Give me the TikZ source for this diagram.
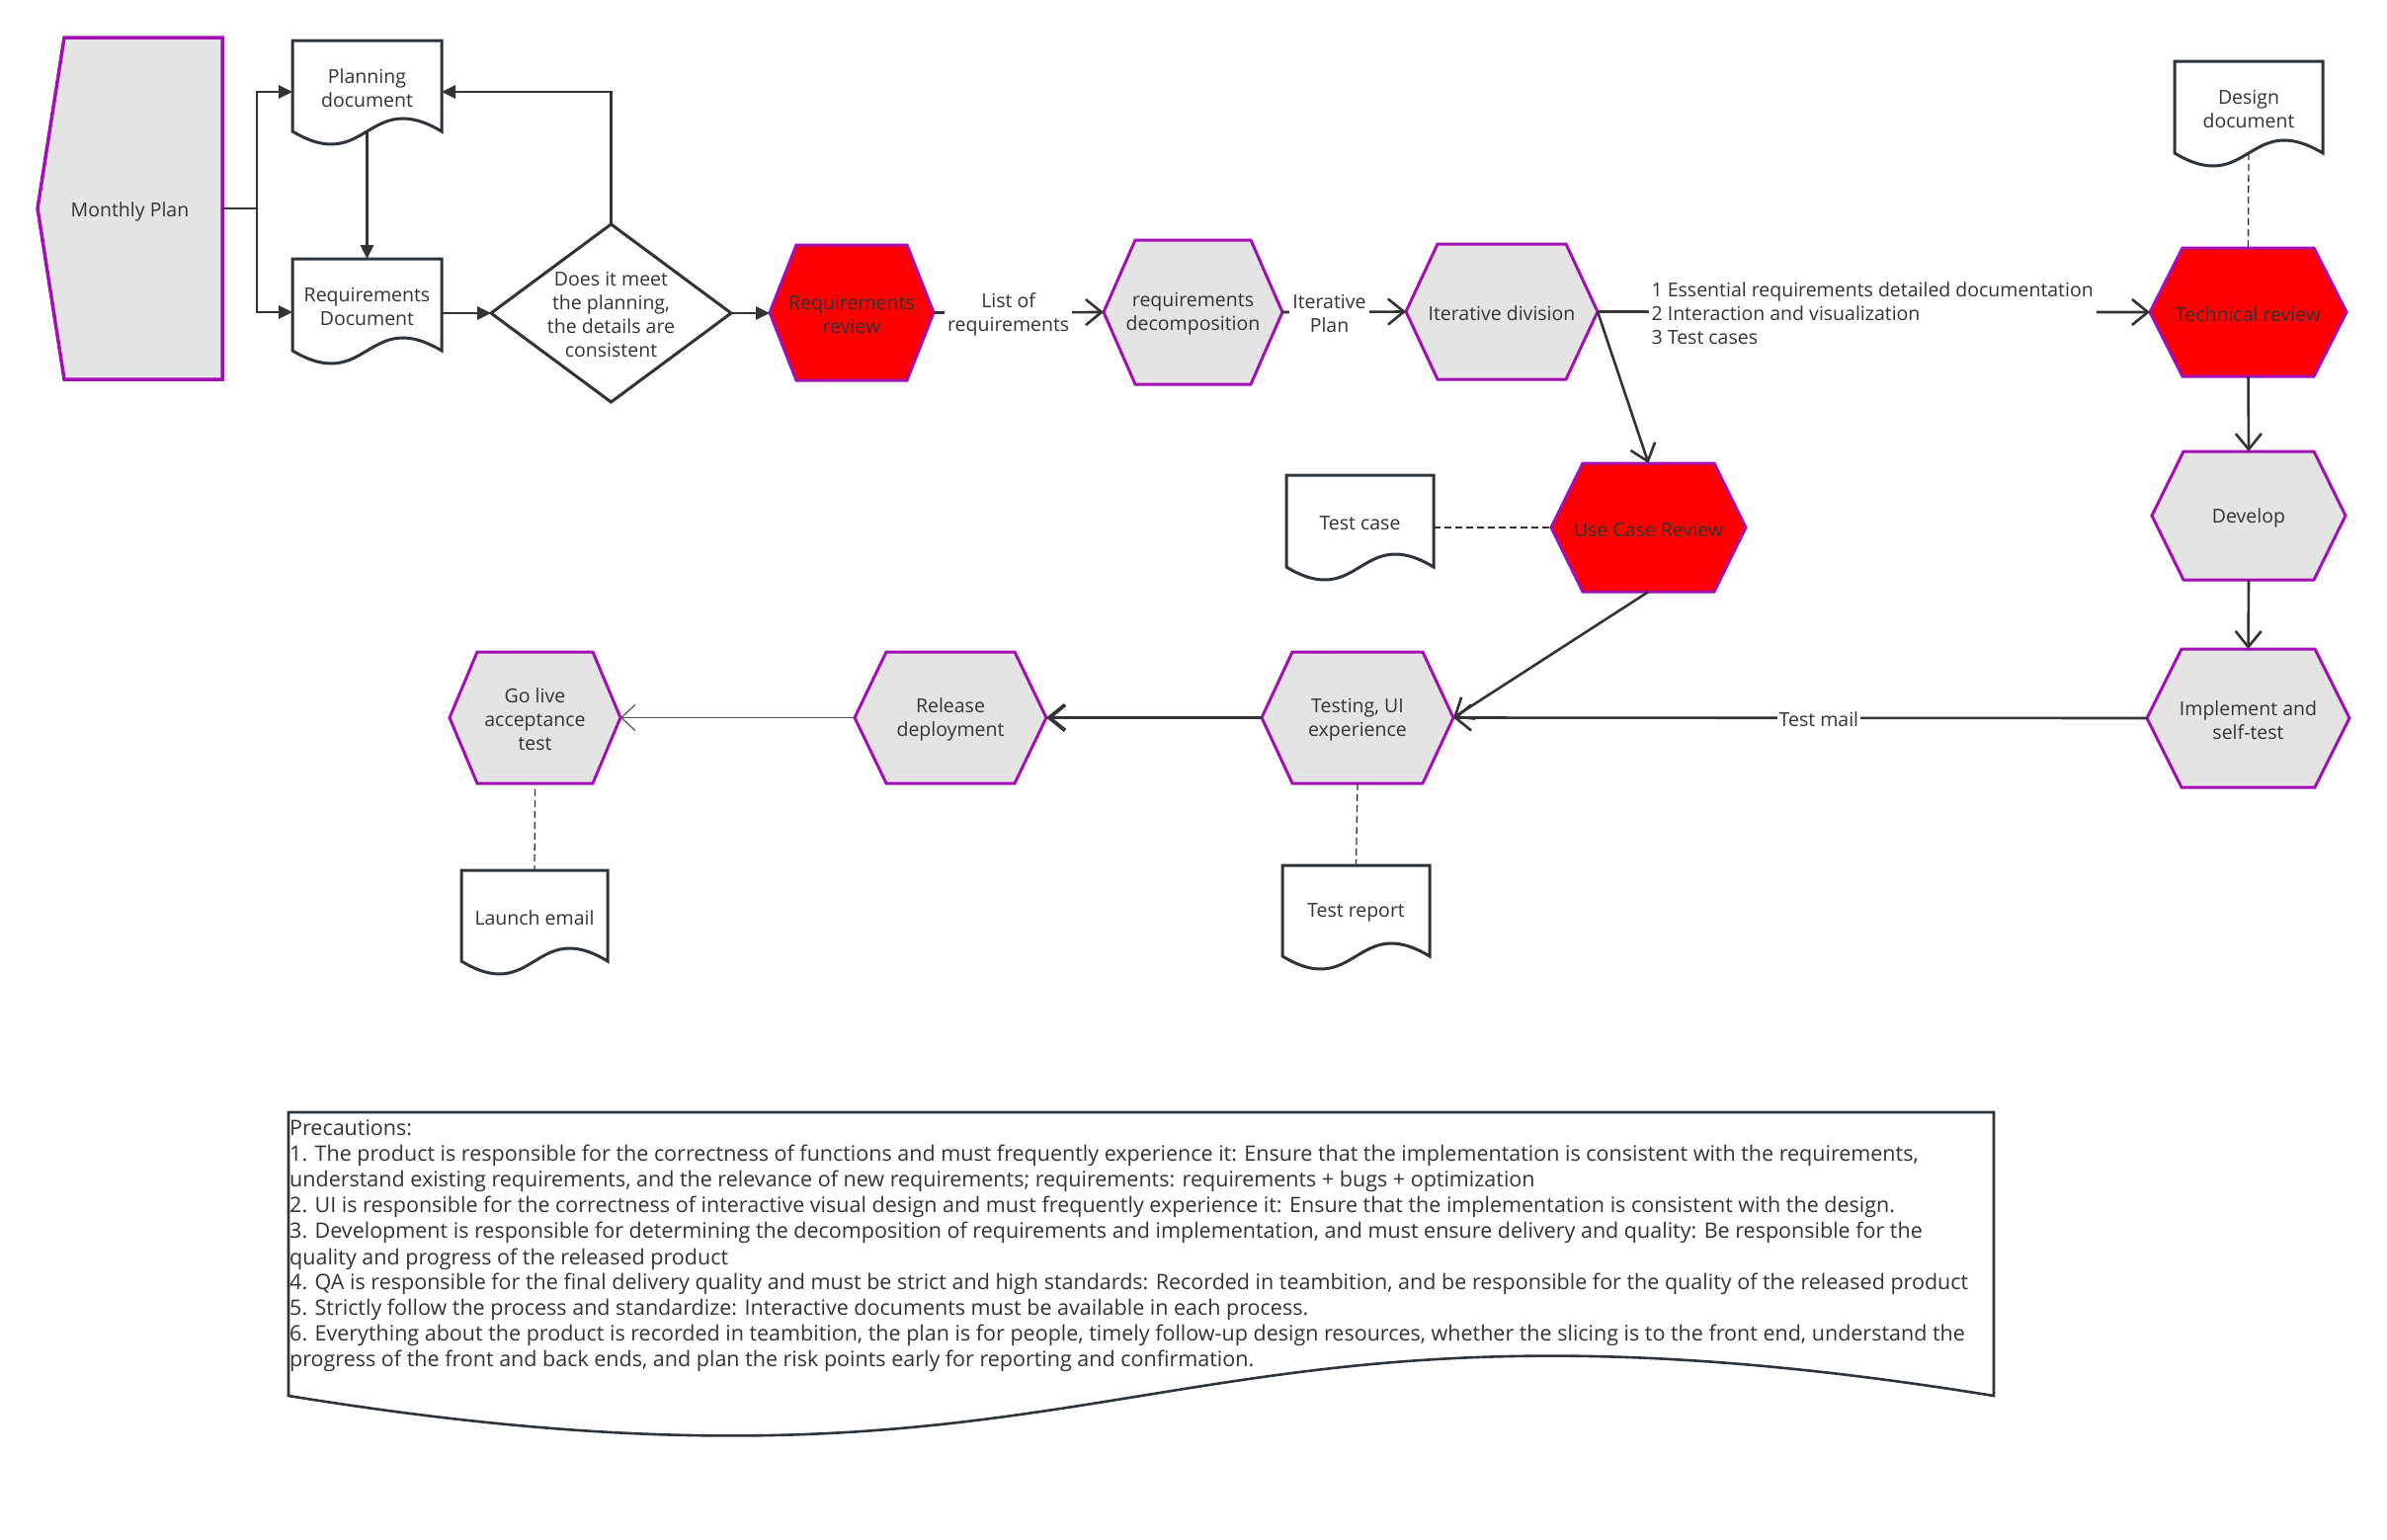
\documentclass[tikz,border=0pt]{standalone}
\usepackage{fontspec}
\setmainfont{Open Sans}
\usetikzlibrary{arrows.meta,calc}
\definecolor{pur}{RGB}{163,14,181}
\definecolor{hexgray}{RGB}{228,228,228}
\definecolor{ink}{RGB}{51,51,51}
\definecolor{docink}{RGB}{45,52,58}
\definecolor{hexred}{RGB}{255,0,0}

\tikzset{
  anc/.style={inner sep=0pt, outer sep=0pt, draw=none},
  hexline/.style={draw=pur, line width=3pt, line join=miter},
  docline/.style={draw=docink, line width=3pt},
  lbl/.style={text=ink, align=center, font=\fontsize{19.5}{24}\selectfont},
  conn/.style={draw=ink, line width=2.6pt},
  fillarr/.style={conn, -{Triangle[length=14pt,width=13pt]}},
  openarr/.style={conn, -{Straight Barb[length=16pt,width=26pt]}},
  dashline/.style={draw=ink, line width=1.3pt, dash pattern=on 7pt off 4pt},
  edgelbl/.style={lbl, fill=white, inner sep=3pt},
}

\newcommand\hexnode[8]{%
  \node[anc, minimum width=#4pt, minimum height=#5pt] (#1) at (#2,#3) {};
  \path[hexline, fill=#7] (#1.west) -- ([xshift=#6pt]#1.north west) -- ([xshift=-#6pt]#1.north east) -- (#1.east) -- ([xshift=-#6pt]#1.south east) -- ([xshift=#6pt]#1.south west) -- cycle;
  \node[lbl] (#1-t) at ([yshift=-2pt]#1.center) {#8};
}
\newcommand\docnode[6]{%
  \node[anc, minimum width=#4pt, minimum height=#5pt] (#1) at (#2,#3) {};
  \path[docline, fill=white] (#1.south west) -- (#1.north west) -- (#1.north east) -- (#1.south east) .. controls ([yshift=45pt]#1.south) and ([yshift=-45pt]#1.south) .. (#1.south west) -- cycle;
  \node[lbl] (#1-t) at ([yshift=-2pt]#1.center) {#6};
}

\begin{document}
\begin{tikzpicture}[x=1pt,y=-1pt]
\useasboundingbox[fill=white] (0,0) rectangle (2416,1558);

% Monthly plan
\node[anc, minimum width=187pt, minimum height=346pt] (mp) at (131.5,211) {};
\path[hexline, line width=3.5pt, fill=hexgray] (mp.west) -- ([xshift=27pt]mp.north west) -- (mp.north east) -- (mp.south east) -- ([xshift=27pt]mp.south west) -- cycle;
\node[lbl] (mp-t) at ([yshift=-3pt]mp.center) {Monthly Plan};

% documents
\docnode{pd}{371.5}{87}{151}{92}{Planning\\document}
\docnode{rqd}{371.5}{308.5}{151}{93}{Requirements\\Document}
\docnode{dd}{2276}{108.5}{150}{93}{Design\\document}
\docnode{tc}{1376.5}{527.5}{149}{93}{Test case}
\docnode{le}{541}{927}{148}{92}{Launch email}
\docnode{trp}{1372.5}{922}{149}{92}{Test report}

% decision
\node[anc, minimum width=243pt, minimum height=180pt] (dia) at (618.5,317) {};
\path[docline, fill=white] (dia.west) -- (dia.north) -- (dia.east) -- (dia.south) -- cycle;
\node[lbl] (dia-t) at ([yshift=-1pt]dia.center) {Does it meet\\the planning,\\the details are\\consistent};

% hexagons
\hexnode{rr}{862}{316.5}{166}{137}{27}{hexred}{Requirements\\review}
\hexnode{dec}{1207.5}{316}{181}{146}{32}{hexgray}{requirements\\decomposition}
\hexnode{itd}{1520}{315.5}{194}{137}{32}{hexgray}{Iterative division}
\hexnode{tr}{2275.5}{316}{199}{130}{33}{hexred}{Technical review}
\hexnode{dev}{2276}{522}{196}{130}{32}{hexgray}{Develop}
\hexnode{imp}{2275.5}{727}{205}{140}{35}{hexgray}{Implement and\\self-test}
\hexnode{ucr}{1668.5}{534}{197}{130}{32}{hexred}{Use Case Review}
\hexnode{tst}{1374}{726.5}{194}{133}{31}{hexgray}{Testing, UI\\experience}
\hexnode{rel}{962}{726.5}{194}{133}{32}{hexgray}{Release\\deployment}
\hexnode{gol}{541.5}{726.5}{173}{133}{28}{hexgray}{Go live\\acceptance\\test}

% connectors, first part
\coordinate (j1) at (260,211);
\draw[conn] (mp.east) -- (j1);
\draw[fillarr] (j1) |- ([yshift=-6pt]pd.west);
\draw[fillarr] (j1) |- ([yshift=-7.5pt]rqd.west);
\draw[fillarr] (pd.south) -- (rqd.north);
\draw[fillarr] (rqd.east |- dia.west) -- (dia.west);
\draw[fillarr] (dia.north) |- ([yshift=-6pt]pd.east);
\draw[fillarr] (dia.east) -- (rr.west |- dia.east);

% main flow
\draw[openarr] (rr.east) -- node[edgelbl, pos=0.44, yshift=-2pt] (l1) {List of\\requirements} (dec.west);
\draw[openarr] (dec.east) -- node[edgelbl, pos=0.38, yshift=-2pt] (l2) {Iterative\\Plan} (itd.west);
\draw[openarr] (itd.east) -- node[edgelbl, align=left, anchor=west, pos=0.09, yshift=-2pt] (l3) {1 Essential requirements detailed documentation\\2 Interaction and visualization\\3 Test cases} (tr.west);
\draw[openarr] (itd.east) -- (ucr.north);
\draw[dashline] (dd.south) -- (tr.north);
\draw[openarr] (tr.south) -- (dev.north);
\draw[openarr] (dev.south) -- (imp.north);
\draw[openarr] (imp.west) -- node[edgelbl, pos=0.473, inner sep=2pt, yshift=-1pt] (l4) {Test mail} (tst.east);
\draw[openarr] (ucr.south) -- (tst.east);
\draw[dashline] (tc.east |- ucr.west) -- (ucr.west);
\draw[openarr, line width=3.8pt] (tst.west) -- (rel.east);
\draw[draw=ink!85, line width=1.2pt, -{Straight Barb[length=14pt,width=26pt]}] (rel.west) -- (gol.east);
\draw[dashline] ([yshift=-6pt]gol.south) -- (le.north);
\draw[dashline] (tst.south) -- (trp.north);

% precautions
\node[anc, minimum width=1726pt, minimum height=287pt] (prec) at (1155,1269.5) {};
\path[docline, line width=2.6pt, fill=none] (prec.south west) -- (prec.north west) -- (prec.north east) -- (prec.south east) .. controls ([yshift=140pt]prec.south) and ([yshift=-140pt]prec.south) .. (prec.south west) -- cycle;
\node[lbl, align=left, anchor=north west, inner sep=0pt, font=\fontsize{21.5}{26}\selectfont] (ptxt) at (293,1134) {Precautions:\\
1. The product is responsible for the correctness of functions and must frequently experience it: Ensure that the implementation is consistent with the requirements,\\
understand existing requirements, and the relevance of new requirements; requirements: requirements + bugs + optimization\\
2. UI is responsible for the correctness of interactive visual design and must frequently experience it: Ensure that the implementation is consistent with the design.\\
3. Development is responsible for determining the decomposition of requirements and implementation, and must ensure delivery and quality: Be responsible for the\\
quality and progress of the released product\\
4. QA is responsible for the final delivery quality and must be strict and high standards: Recorded in teambition, and be responsible for the quality of the released product\\
5. Strictly follow the process and standardize: Interactive documents must be available in each process.\\
6. Everything about the product is recorded in teambition, the plan is for people, timely follow-up design resources, whether the slicing is to the front end, understand the\\
progress of the front and back ends, and plan the risk points early for reporting and confirmation.};
\end{tikzpicture}
\end{document}
